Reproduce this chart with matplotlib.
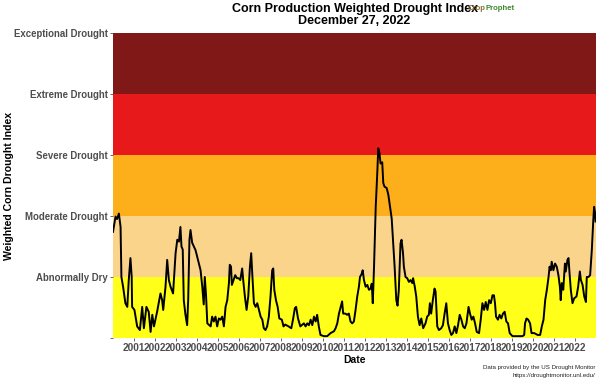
import matplotlib
matplotlib.use("Agg")
import matplotlib.pyplot as plt

# decimal year / weighted drought index (0 = none ... 5 = exceptional)
years = [
    2000.01, 2000.13, 2000.20, 2000.29, 2000.33, 2000.37, 2000.41, 2000.49, 2000.60, 2000.69,
    2000.76, 2000.84, 2000.90, 2000.92, 2001.03, 2001.16, 2001.29, 2001.40, 2001.48, 2001.60,
    2001.71, 2001.80, 2001.88, 2001.96, 2002.11, 2002.27, 2002.35, 2002.40, 2002.51, 2002.59,
    2002.67, 2002.75, 2002.87, 2002.99, 2003.07, 2003.15, 2003.22, 2003.27, 2003.33, 2003.38,
    2003.46, 2003.54, 2003.59, 2003.65, 2003.70, 2003.78, 2003.94, 2004.10, 2004.18, 2004.26,
    2004.33, 2004.38, 2004.44, 2004.50, 2004.66, 2004.73, 2004.81, 2004.89, 2004.97, 2005.05,
    2005.13, 2005.21, 2005.29, 2005.37, 2005.45, 2005.53, 2005.57, 2005.63, 2005.67, 2005.75,
    2005.83, 2005.91, 2005.99, 2006.07, 2006.16, 2006.21, 2006.29, 2006.37, 2006.45, 2006.53,
    2006.59, 2006.64, 2006.72, 2006.80, 2006.88, 2006.96, 2007.04, 2007.12, 2007.19, 2007.27,
    2007.35, 2007.43, 2007.51, 2007.59, 2007.64, 2007.69, 2007.77, 2007.85, 2007.93, 2008.05,
    2008.13, 2008.21, 2008.37, 2008.50, 2008.58, 2008.67, 2008.73, 2008.82, 2008.93, 2009.10,
    2009.18, 2009.26, 2009.34, 2009.42, 2009.50, 2009.58, 2009.66, 2009.73, 2009.81, 2009.89,
    2010.05, 2010.21, 2010.37, 2010.53, 2010.61, 2010.69, 2010.77, 2010.85, 2010.92, 2010.97,
    2011.08, 2011.16, 2011.24, 2011.32, 2011.40, 2011.48, 2011.56, 2011.64, 2011.72, 2011.77,
    2011.85, 2011.90, 2011.96, 2012.04, 2012.12, 2012.20, 2012.28, 2012.33, 2012.38, 2012.44,
    2012.52, 2012.60, 2012.64, 2012.70, 2012.75, 2012.83, 2012.88, 2012.94, 2013.04, 2013.12,
    2013.20, 2013.28, 2013.34, 2013.42, 2013.50, 2013.56, 2013.62, 2013.70, 2013.75, 2013.82,
    2013.86, 2013.94, 2014.02, 2014.10, 2014.18, 2014.26, 2014.30, 2014.38, 2014.45, 2014.53,
    2014.61, 2014.69, 2014.78, 2014.89, 2014.97, 2015.05, 2015.10, 2015.16, 2015.24, 2015.32,
    2015.37, 2015.45, 2015.53, 2015.64, 2015.72, 2015.80, 2015.88, 2015.96, 2016.04, 2016.12,
    2016.20, 2016.28, 2016.36, 2016.44, 2016.52, 2016.60, 2016.68, 2016.76, 2016.84, 2016.94,
    2017.01, 2017.09, 2017.17, 2017.25, 2017.33, 2017.44, 2017.52, 2017.60, 2017.68, 2017.76,
    2017.84, 2017.92, 2018.00, 2018.08, 2018.15, 2018.20, 2018.25, 2018.34, 2018.42, 2018.50,
    2018.58, 2018.66, 2018.74, 2018.82, 2018.90, 2019.03, 2019.27, 2019.51, 2019.59, 2019.63,
    2019.70, 2019.78, 2019.87, 2019.94, 2020.07, 2020.23, 2020.35, 2020.43, 2020.51, 2020.59,
    2020.67, 2020.75, 2020.80, 2020.86, 2020.90, 2020.98, 2021.06, 2021.14, 2021.22, 2021.29,
    2021.33, 2021.38, 2021.45, 2021.53, 2021.57, 2021.65, 2021.70, 2021.75, 2021.81, 2021.89,
    2021.97, 2022.08, 2022.16, 2022.24, 2022.29, 2022.37, 2022.45, 2022.53, 2022.57, 2022.65,
    2022.73, 2022.81, 2022.88, 2022.92, 2022.97, 2022.99,
]
index = [
    1.74, 1.99, 1.95, 2.04, 1.93, 1.82, 1.00, 0.84, 0.57, 0.51,
    0.95, 1.31, 1.00, 0.51, 0.46, 0.19, 0.13, 0.51, 0.16, 0.51,
    0.43, 0.10, 0.38, 0.19, 0.43, 0.73, 0.62, 0.46, 0.84, 1.28,
    0.95, 0.84, 0.73, 1.39, 1.61, 1.58, 1.82, 1.50, 1.45, 0.62,
    0.38, 0.21, 0.62, 1.61, 1.77, 1.56, 1.44, 1.22, 1.11, 0.84,
    0.55, 1.00, 0.70, 0.24, 0.19, 0.35, 0.27, 0.35, 0.19, 0.32,
    0.30, 0.35, 0.19, 0.51, 0.62, 0.90, 1.20, 1.17, 0.87, 0.95,
    1.03, 0.98, 0.98, 0.95, 1.14, 0.95, 0.68, 0.46, 0.68, 1.17,
    1.39, 1.06, 0.57, 0.51, 0.57, 0.46, 0.35, 0.30, 0.16, 0.13,
    0.19, 0.35, 0.68, 1.11, 1.14, 0.79, 0.62, 0.51, 0.32, 0.30,
    0.19, 0.22, 0.19, 0.16, 0.30, 0.49, 0.51, 0.32, 0.19, 0.24,
    0.19, 0.24, 0.21, 0.30, 0.21, 0.35, 0.27, 0.38, 0.19, 0.05,
    0.03, 0.03, 0.08, 0.11, 0.16, 0.24, 0.40, 0.51, 0.60, 0.40,
    0.40, 0.38, 0.40, 0.27, 0.24, 0.27, 0.46, 0.68, 0.84, 1.00,
    1.05, 1.11, 0.95, 0.84, 0.87, 0.79, 0.81, 0.89, 0.57, 1.17,
    2.15, 2.75, 3.11, 3.03, 2.86, 2.88, 2.54, 2.48, 2.46, 2.35,
    2.15, 1.96, 1.61, 1.17, 0.62, 0.53, 0.79, 1.55, 1.61, 1.39,
    1.17, 1.00, 0.98, 0.92, 0.95, 0.90, 0.98, 0.84, 0.68, 0.35,
    0.21, 0.32, 0.16, 0.24, 0.35, 0.38, 0.57, 0.40, 0.62, 0.81,
    0.76, 0.19, 0.13, 0.16, 0.21, 0.40, 0.57, 0.24, 0.13, 0.05,
    0.08, 0.19, 0.08, 0.21, 0.38, 0.30, 0.19, 0.16, 0.24, 0.51,
    0.40, 0.30, 0.35, 0.24, 0.10, 0.08, 0.30, 0.57, 0.46, 0.59,
    0.46, 0.62, 0.57, 0.70, 0.70, 0.57, 0.35, 0.30, 0.38, 0.32,
    0.40, 0.43, 0.27, 0.24, 0.08, 0.03, 0.03, 0.03, 0.05, 0.24,
    0.32, 0.30, 0.24, 0.08, 0.08, 0.05, 0.05, 0.19, 0.30, 0.62,
    0.79, 1.00, 1.17, 1.11, 1.25, 1.11, 1.22, 1.17, 1.03, 0.84,
    0.62, 0.90, 0.79, 1.22, 1.09, 1.28, 1.31, 1.06, 0.79, 0.57,
    0.65, 0.68, 0.84, 1.09, 0.95, 0.87, 0.68, 0.59, 1.00, 1.00,
    1.03, 1.44, 1.93, 2.15, 2.04, 1.91,
]

levels = ["", "Abnormally Dry", "Moderate Drought", "Severe Drought",
          "Extreme Drought", "Exceptional Drought"]
band_colors = ["#FFFF19", "#FAD48B", "#FDAE1B", "#E8191A", "#801818"]
year_ticks = list(range(2001, 2023))

plt.rcParams["font.family"] = ["Liberation Sans", "DejaVu Sans"]

fig = plt.figure(figsize=(6, 3.81), dpi=100)
ax = fig.add_axes([0.188, 0.1129, 0.805, 0.8005])

for i, c in enumerate(band_colors):
    ax.axhspan(i, i + 1, color=c, lw=0, zorder=0)

ax.plot(years, index, color="black", lw=1.4, zorder=2)

ax.set_xlim(2000.0, 2023.0)
ax.set_ylim(0, 5)
ax.set_yticks(range(len(levels)))
ax.set_yticklabels(levels, fontsize=6.9, fontweight="bold", color="#4D4D4D")
ax.set_xticks(year_ticks)
ax.set_xticklabels([str(y) for y in year_ticks], fontsize=7.3, fontweight="bold",
                   color="#4D4D4D")
ax.tick_params(length=2.5, width=0.6, color="#4D4D4D", pad=1.2)
for s in ax.spines.values():
    s.set_visible(False)

ax.set_xlabel("Date", fontsize=7.5, fontweight="bold", labelpad=1.5)
ax.set_ylabel("Weighted Corn Drought Index", fontsize=7.6, fontweight="bold")
ax.yaxis.set_label_coords(-0.205, 0.5)

fig.text(0.591, 0.977, "Corn Production Weighted Drought Index", ha="center", va="center",
         fontsize=9, fontweight="bold")
fig.text(0.591, 0.945, "December 27, 2022", ha="center", va="center",
         fontsize=9, fontweight="bold")
fig.text(0.780, 0.979, "Crop", ha="left", va="center", fontsize=5.6, fontweight="bold",
         color="#8a6d3b")
fig.text(0.809, 0.979, "Prophet", ha="left", va="center", fontsize=5.6, fontweight="bold",
         color="#3d8b2f")

fig.text(0.993, 0.036, "Data provided by the US Drought Monitor", ha="right", va="center",
         fontsize=4.4, color="#222222")
fig.text(0.993, 0.015, "https://droughtmonitor.unl.edu/", ha="right", va="center",
         fontsize=4.4, color="#222222")

fig.savefig("out.png", dpi=100)
